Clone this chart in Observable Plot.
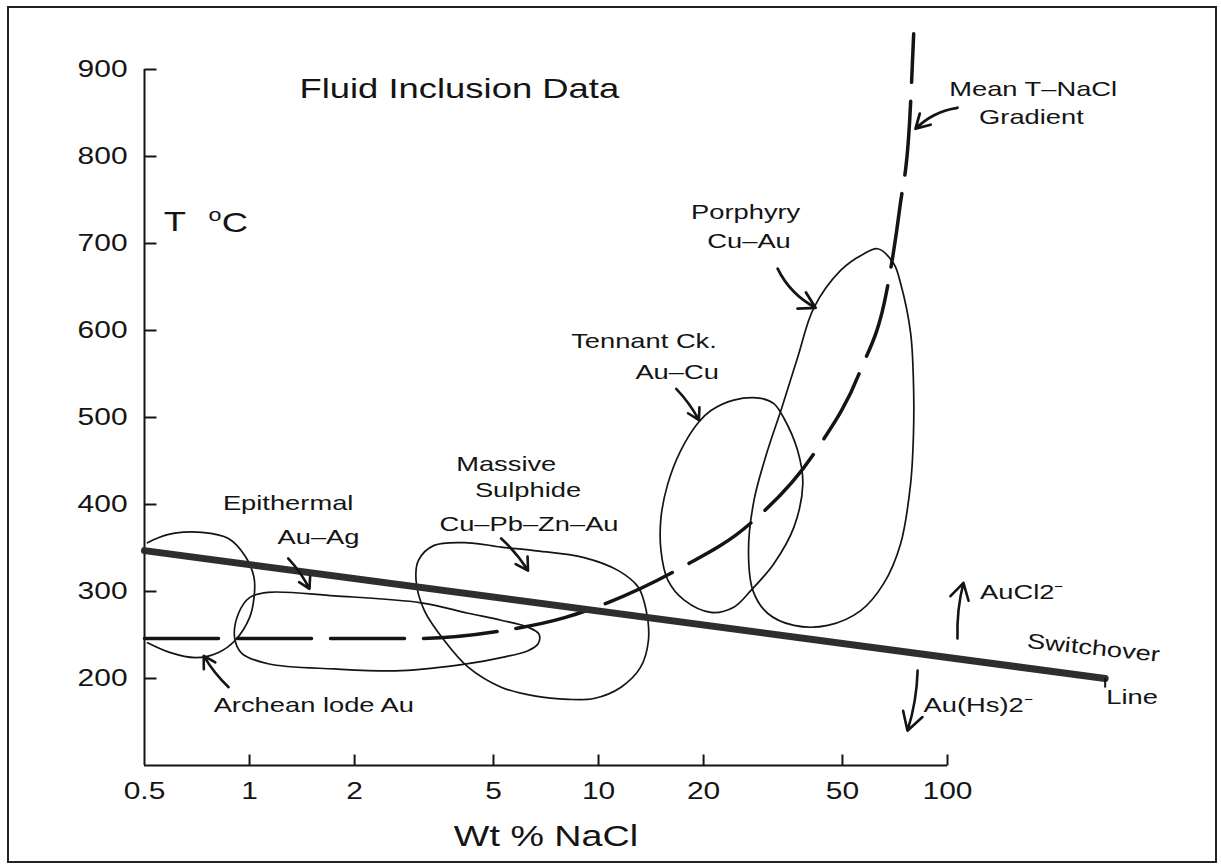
<!DOCTYPE html>
<html>
<head>
<meta charset="utf-8">
<script src="https://cdn.jsdelivr.net/npm/d3@7"></script>
<script src="https://cdn.jsdelivr.net/npm/@observablehq/plot@0.6"></script>
<style>
html, body { margin: 0; padding: 0; background: #fff; overflow: hidden; }
#wrap { position: relative; width: 1221px; height: 868px; }
#border { position: absolute; left: 7px; top: 6px; width: 1206px; height: 853px; border: 2px solid #222; pointer-events: none; }
</style>
</head>
<body>
<div id="wrap"><div id="chart"></div><div id="border"></div></div>
<script>
// ---- axes ----
const xTicks = [0.5, 1, 2, 5, 10, 20, 50, 100];
const xTickMarks = [1, 2, 5, 10, 20, 50, 100];
const yTicks = [200, 300, 400, 500, 600, 700, 800, 900];

// ---- Switchover line (Wt % NaCl, T °C) ----
const switchNaCl = [0.5, 283];
const switchT = [347, 200];

// ---- Mean T-NaCl gradient ----
const gradNaCl = [0.5, 3, 5.3, 8, 10.6, 17, 27, 42, 56, 67, 73, 78, 80];
const gradT    = [246, 246, 255, 270, 287, 326, 377, 462, 552, 646, 741, 845, 941];

// ---- fluid inclusion fields [NaCl, T] ----
const archean = [[0.51,356],[0.55,362],[0.61,367],[0.73,368],[0.87,361],[0.97,341],[1.03,316],[1.03,293],[1.0,270],[0.91,244],[0.815,230],[0.70,224],[0.59,230],[0.51,241]];
const epithermal = [[1.0,293],[1.13,299],[1.75,295],[3.1,287],[4.23,275],[5.26,267],[6.28,259],[6.75,251],[6.71,240],[6.28,232],[5.26,224],[4.23,217],[2.72,209],[1.75,211],[1.13,217],[0.95,229],[0.906,247],[0.93,275]];
const massive = [[3.00,313],[3.05,336],[3.38,353],[4.23,356],[5.26,351],[6.54,347],[9.09,339],[11.4,324],[13.0,305],[13.7,278],[13.9,244],[13.2,213],[11.6,190],[9.7,177],[8.2,176],[6.54,180],[5.26,190],[4.23,213],[3.61,244],[3.17,278]];
const tennant = [[29.2,522],[24.4,520],[21.0,508],[19.3,494],[17.2,462],[15.8,424],[15.1,385],[15.1,347],[15.8,313],[17.6,290],[21.0,276],[24.4,282],[27.3,301],[31.8,332],[36.3,374],[38.5,424],[37.2,462],[33.9,500],[31.8,516]];
const porphyry = [[27.7,301],[26.9,347],[27.9,405],[30.5,462],[33.5,511],[37.2,569],[41.4,626],[49.4,669],[57.5,688],[63.1,694],[70.1,677],[73.4,654],[78.4,597],[79.9,539],[79.9,482],[78.4,424],[73.4,355],[65.6,309],[56.4,278],[45.4,261],[36.3,261],[30.5,275]];

// ---- arrows ----
const arrowsStraight = [
  {x1: 16.7, y1: 533, x2: 19.4, y2: 497},
  {x1: 5.26, y1: 361, x2: 6.28, y2: 324},
  {x1: 1.29, y1: 338, x2: 1.485, y2: 303},
  {x1: 0.871, y1: 190, x2: 0.739, y2: 226},
  {x1: 106.8, y1: 246, x2: 111.1, y2: 310},
  {x1: 82.1, y1: 209, x2: 76.8, y2: 140}
];
const arrowsBent = [
  {x1: 106.8, y1: 856, x2: 81, y2: 832},
  {x1: 32.6, y1: 671, x2: 41.9, y2: 626}
];

// ---- labels ----
const centerLabels = ["Porphyry", "Cu–Au", "Tennant Ck.", "Au–Cu", "Massive", "Sulphide", "Cu–Pb–Zn–Au", "Epithermal", "Au–Ag", "Mean T–NaCl", "Gradient"];
const centerX = [26.4, 27.0, 13.5, 16.8, 5.44, 6.28, 6.32, 1.29, 1.576, 176, 174];
const centerY = [736, 703, 588, 552, 446, 416, 377, 401, 362, 877, 845];
const startLabels = ["Archean lode Au", "AuCl2⁻", "Au(Hs)2⁻", "Line"];
const startX = [0.789, 124, 85.4, 285];
const startY = [169, 299, 169, 179];

const toPts = (xs, ys) => xs.map((x, i) => ({x, y: ys[i]}));
const idx = (arr) => arr.map((d, i) => i);

const tickRight = {draw(c) { c.moveTo(0, 0); c.lineTo(12, 0); }};
const tickUp = {draw(c) { c.moveTo(0, 0); c.lineTo(0, -11); }};
const ink = "#141414";
const FONT = "'Liberation Sans', Arial, Helvetica, sans-serif";

const fieldLine = (pts, curve) => Plot.line(pts, {x: d => d[0], y: d => d[1], curve, stroke: ink, strokeWidth: 1.7});

const svg = Plot.plot({
  width: 1221,
  height: 868,
  marginLeft: 144,
  marginRight: 274,
  marginTop: 69,
  marginBottom: 103,
  style: {fontFamily: FONT, background: "#fff", color: ink, overflow: "visible"},
  x: {type: "log", domain: [0.5, 100], axis: null},
  y: {domain: [100, 900], axis: null},
  marks: [
    // axis lines & inward ticks
    Plot.ruleX([xTicks[0]], {y1: yTicks[0] - 100, y2: yTicks[yTicks.length - 1], stroke: ink, strokeWidth: 2}),
    Plot.ruleY([yTicks[0] - 100], {x1: xTicks[0], x2: xTicks[xTicks.length - 1], stroke: ink, strokeWidth: 2}),
    Plot.dot(yTicks, {y: d => d, frameAnchor: "left", symbol: tickRight, stroke: ink, strokeWidth: 2}),
    Plot.dot(xTickMarks, {x: d => d, frameAnchor: "bottom", symbol: tickUp, stroke: ink, strokeWidth: 2}),
    Plot.text(yTicks, {y: d => d, frameAnchor: "left", dx: -17, text: d => String(d), textAnchor: "end", fontSize: 23, fill: ink}),
    Plot.text(xTicks, {x: d => d, frameAnchor: "bottom", dy: 33, text: d => String(d), fontSize: 23, fill: ink}),

    // fields
    fieldLine(archean, "catmull-rom"),
    fieldLine(epithermal, "catmull-rom-closed"),
    fieldLine(massive, "catmull-rom-closed"),
    fieldLine(tennant, "catmull-rom-closed"),
    fieldLine(porphyry, "catmull-rom-closed"),

    // mean gradient (dashed)
    Plot.line(toPts(gradNaCl, gradT), {x: "x", y: "y", curve: "monotone-x", stroke: ink, strokeWidth: 3.5, strokeDasharray: "74,19"}),

    // switchover line
    Plot.line(toPts(switchNaCl, switchT), {x: "x", y: "y", stroke: "#2e2e2e", strokeWidth: 7}),
    Plot.ruleX([switchNaCl[1]], {y1: switchT[1], y2: startY[3] + 10, stroke: ink, strokeWidth: 2}),

    // arrows
    Plot.arrow(arrowsStraight, {x1: "x1", y1: "y1", x2: "x2", y2: "y2", stroke: ink, strokeWidth: 2.6, headLength: 12, bend: 8}),
    Plot.arrow(arrowsBent, {x1: "x1", y1: "y1", x2: "x2", y2: "y2", stroke: ink, strokeWidth: 2.8, headLength: 13, bend: -18}),

    // labels
    Plot.text(idx(centerLabels), {x: i => centerX[i], y: i => centerY[i], text: i => centerLabels[i], fontSize: 21, fill: ink, textAnchor: "middle"}),
    Plot.text(idx(startLabels), {x: i => startX[i], y: i => startY[i], text: i => startLabels[i], fontSize: 21, fill: ink, textAnchor: "start"}),
    Plot.text(["Switchover"], {x: 262, y: 235, text: d => d, fontSize: 21, fill: ink, rotate: 6}),
    Plot.text(["Fluid Inclusion Data"], {x: 1.39, y: 878, text: d => d, fontSize: 28, fill: ink, textAnchor: "start"}),
    Plot.text(["T"], {x: 0.568, y: 725, text: d => d, fontSize: 28, fill: ink, textAnchor: "start"}),
    Plot.text(["o"], {x: 0.763, y: 733, text: d => d, fontSize: 18, fill: ink, textAnchor: "start"}),
    Plot.text(["C"], {x: 0.832, y: 724, text: d => d, fontSize: 28, fill: ink, textAnchor: "start"}),
    Plot.text(["Wt % NaCl"], {frameAnchor: "bottom", dy: 80, text: d => d, fontSize: 29, fill: ink})
  ]
});

document.getElementById("chart").append(svg);

// widen lettering like the reference's extended typeface
const STRETCH = 1.3;
svg.querySelectorAll("text").forEach(t => {
  const spans = t.querySelectorAll("tspan");
  const targets = spans.length ? Array.from(spans) : [t];
  targets.forEach(el => {
    const w = el.getComputedTextLength();
    if (w > 0) {
      el.setAttribute("textLength", (w * STRETCH).toFixed(1));
      el.setAttribute("lengthAdjust", "spacingAndGlyphs");
    }
  });
});
</script>
</body>
</html>
